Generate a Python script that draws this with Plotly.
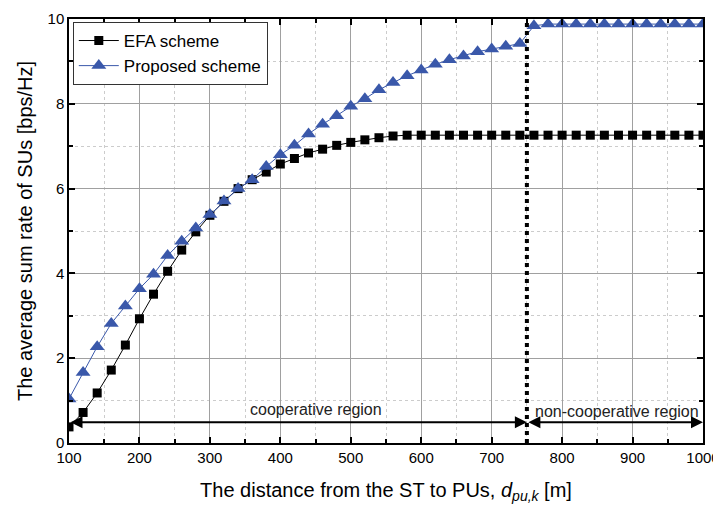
import plotly.graph_objects as go

distance = list(range(100, 1001, 20))

efa = [0.38, 0.72, 1.18, 1.72, 2.31, 2.93, 3.51, 4.05, 4.55, 4.98,
       5.37, 5.70, 6.00, 6.21, 6.39, 6.58, 6.71, 6.84, 6.93, 7.02,
       7.09, 7.15, 7.20, 7.24, 7.26, 7.26, 7.26, 7.26, 7.26, 7.26,
       7.26, 7.26, 7.26, 7.26, 7.26, 7.26, 7.26, 7.26, 7.26, 7.26,
       7.26, 7.26, 7.26, 7.26, 7.26, 7.26]

proposed = [1.04, 1.66, 2.27, 2.82, 3.23, 3.64, 3.98, 4.42, 4.76, 5.07,
            5.39, 5.71, 6.00, 6.21, 6.52, 6.80, 7.02, 7.29, 7.52, 7.72,
            7.94, 8.12, 8.33, 8.50, 8.66, 8.80, 8.93, 9.04, 9.13, 9.23,
            9.29, 9.36, 9.42, 9.84, 9.88, 9.88, 9.88, 9.88, 9.88, 9.88,
            9.88, 9.88, 9.88, 9.88, 9.88, 9.88]

boundary = 750
arrow_y = 0.49
x_ticks = list(range(100, 1001, 100))
y_ticks = [0, 2, 4, 6, 8, 10]

FONT = "Liberation Sans, Arial, sans-serif"
BLUE = "#3a58aa"

fig = go.Figure()
fig.add_trace(go.Scatter(
    x=distance, y=efa, mode="lines+markers", name="EFA scheme",
    line=dict(color="black", width=1),
    marker=dict(symbol="square", size=9, color="black"),
))
fig.add_trace(go.Scatter(
    x=distance, y=proposed, mode="lines+markers", name="Proposed scheme",
    line=dict(color=BLUE, width=1),
    marker=dict(symbol="triangle-up", size=13, color=BLUE),
))

fig.add_shape(type="line", x0=boundary, x1=boundary, y0=0, y1=10,
              xref="x", yref="y", line=dict(color="black", width=4, dash="dot"))

for x0, x1 in [(100, boundary), (boundary, 1000)]:
    fig.add_annotation(x=x1, y=arrow_y, ax=x0, ay=arrow_y, xref="x", yref="y",
                       axref="x", ayref="y", showarrow=True, arrowhead=2,
                       arrowside="end+start", arrowsize=1.2, arrowwidth=2,
                       arrowcolor="black", text="")

fig.add_annotation(x=451, y=0.8, xref="x", yref="y", text="cooperative region",
                   showarrow=False, font=dict(family=FONT, size=16, color="#222"))
fig.add_annotation(x=878, y=0.75, xref="x", yref="y", text="non-cooperative region",
                   showarrow=False, font=dict(family=FONT, size=16, color="#222"))

axis_common = dict(
    showline=True, linecolor="black", linewidth=1.5, mirror="ticks",
    ticks="inside", ticklen=6, tickwidth=1.5, tickcolor="black",
    showgrid=True, gridcolor="#a0a0a0", gridwidth=1, zeroline=False,
    automargin=False,
    tickfont=dict(family=FONT, size=15, color="black"),
)

fig.update_xaxes(
    range=[100, 1000], tickvals=x_ticks, **axis_common,
    minor=dict(dtick=50, tick0=100, showgrid=True, gridcolor="#cccccc",
               griddash="dot", ticks="inside", ticklen=4, tickcolor="black"),
    title=dict(text="The distance from the ST to PUs, <i>d</i><sub><i>pu,k</i></sub> [m]",
               font=dict(family=FONT, size=20, color="black"), standoff=18),
)
fig.update_yaxes(
    range=[0, 10], tickvals=y_ticks, **axis_common,
    minor=dict(dtick=1, tick0=0, showgrid=True, gridcolor="#cccccc",
               griddash="dot", ticks="inside", ticklen=4, tickcolor="black"),
    title=dict(text="The average sum rate of SUs [bps/Hz]",
               font=dict(family=FONT, size=20, color="black"), standoff=10),
)

# page body has an 8px default margin, so the figure is sized to fit the window
fig.update_layout(
    width=713, height=507,
    margin=dict(l=61, r=18, t=11, b=72),
    plot_bgcolor="white", paper_bgcolor="white",
    legend=dict(x=0.006, y=0.993, xanchor="left", yanchor="top",
                bgcolor="white", bordercolor="#333", borderwidth=1,
                font=dict(family=FONT, size=17, color="black"),
                itemwidth=40, tracegroupgap=0),
    showlegend=True,
)

fig.write_html("out.html")
